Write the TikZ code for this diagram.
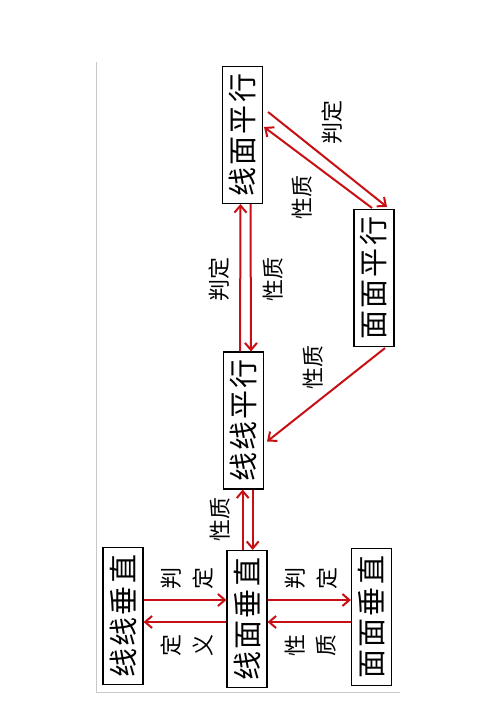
\documentclass[tikz,border=0pt]{standalone}
\usepackage{fontspec}
\usepackage{graphicx}
\usetikzlibrary{arrows.meta,calc}
\newfontfamily\cjk{Noto Sans CJK SC}
\definecolor{arrred}{RGB}{200,16,20}
\definecolor{framegray}{RGB}{200,200,200}
\tikzset{
  box/.style={draw=black, line width=1.1pt, minimum width=40pt, minimum height=137pt, inner sep=0pt},
  boxtxt/.style={font=\cjk\fontsize{29}{30}\selectfont},
  arr/.style={draw=arrred, line width=2pt, -{Straight Barb[length=7pt,width=12pt,line width=2pt]}},
  lbl/.style={inner sep=0pt, font=\cjk\fontsize{22}{24}\selectfont},
}
\newcommand{\rtxt}[1]{\rotatebox{90}{#1}}
\newcommand{\boxword}[1]{\rotatebox{90}{\addfontfeature{LetterSpace=7}#1}}
\begin{document}
\begin{tikzpicture}[x=1pt,y=-1pt]
\useasboundingbox (0,0) rectangle (496,702);
\fill[white] (0,0) rectangle (496,702);
% frame
\draw[framegray, line width=1pt] (96,62) -- (96,692) -- (400,692);
% boxes
\node[box, boxtxt] (LMP) at (242.5,135) {\boxword{线面平行}};
\node[box, boxtxt] (MMP) at (374,278) {\boxword{面面平行}};
\node[box, boxtxt] (LLP) at (243.5,420.5) {\boxword{线线平行}};
\node[box, boxtxt] (LLV) at (123,616) {\boxword{线线垂直}};
\node[box, boxtxt] (LMV) at (247,619) {\boxword{线面垂直}};
\node[box, boxtxt] (MMV) at (371.5,617) {\boxword{面面垂直}};
% vertical LLP <-> LMP
\draw[arr] ($(LLP.north)+(-3.5,0)$) -- ($(LMP.south)+(-2,0)$);
\draw[arr] ($(LMP.south)+(8,0)$) -- ($(LLP.north)+(7.5,0)$);
% diagonal
\draw[arr] ($(LMP.east)+(5,-23)$) -- ($(MMP.north)+(13,-2)$);
\draw[arr] ($(MMP.north)+(-2,-1)$) -- ($(LMP.east)+(1,-8)$);
\draw[arr] ($(MMP.south)+(11,1)$) -- ($(LLP.east)+(3,21)$);
% LMV <-> LLP
\draw[arr] ($(LMV.north)+(-4.3,0)$) -- ($(LLP.south)+(-0.8,0)$);
\draw[arr] ($(LLP.south)+(9.2,0)$) -- ($(LMV.north)+(5.7,0)$);
% bottom row
\draw[arr] ($(LLV.east)+(0,-16)$) -- ($(LMV.west)+(0,-19)$);
\draw[arr] ($(LMV.west)+(0,3)$) -- ($(LLV.east)+(0,6)$);
\draw[arr] ($(LMV.east)+(0,-19)$) -- ($(MMV.west)+(0,-17)$);
\draw[arr] ($(MMV.west)+(0,5)$) -- ($(LMV.east)+(0,3)$);
% labels
\node[lbl] (l1) at (219,279) {\rtxt{判定}};
\node[lbl] (l2) at (273,279) {\rtxt{性质}};
\node[lbl] (l3) at (332,122) {\rtxt{判定}};
\node[lbl] (l4) at (302,197) {\rtxt{性质}};
\node[lbl] (l5) at (313,367) {\rtxt{性质}};
\node[lbl] (l6) at (220,519) {\rtxt{性质}};
\node[lbl] (l7) at (187,578) {\rtxt{\shortstack{判\\[8pt]定}}};
\node[lbl] (l8) at (187,645) {\rtxt{\shortstack{定\\[8pt]义}}};
\node[lbl] (l9) at (311,578) {\rtxt{\shortstack{判\\[8pt]定}}};
\node[lbl] (l10) at (311,645) {\rtxt{\shortstack{性\\[8pt]质}}};
\end{tikzpicture}
\end{document}
